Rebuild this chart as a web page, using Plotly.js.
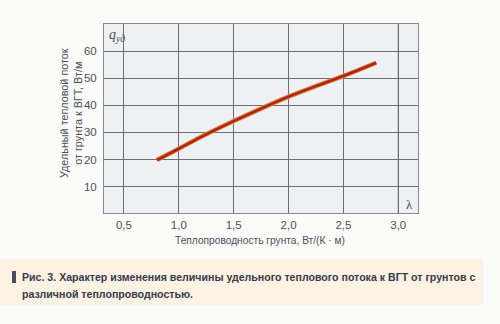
<!DOCTYPE html>
<html>
<head>
<meta charset="utf-8">
<script src="https://cdn.plot.ly/plotly-3.0.1.min.js"></script>
<style>
html,body{margin:0;padding:0;background:#fbfbfa;}
#chart{width:500px;height:324px;}
</style>
</head>
<body>
<div id="chart"></div>
<script>
const lambdaValues = [0.8, 1.0, 1.2, 1.5, 1.75, 2.0, 2.25, 2.5, 2.8];
const qValues = [19.8, 24.0, 28.3, 34.2, 38.8, 43.2, 47.1, 50.8, 55.7];
const xTickVals = [0.5, 1.0, 1.5, 2.0, 2.5, 3.0];
const xTickText = ["0,5", "1,0", "1,5", "2,0", "2,5", "3,0"];
const yTickVals = [10, 20, 30, 40, 50, 60];
const yTickText = ["10", "20", "30", "40", "50", "60"];
const yTitle = "Удельный тепловой поток<br>от грунта к ВГТ, Вт/м";
const xTitle = "Теплопроводность грунта, Вт/(К · м)";
const captionLine1 = "Рис. 3. Характер изменения величины удельного теплового потока к ВГТ от грунтов с";
const captionLine2 = "различной теплопроводностью.";

const FONT = "'Liberation Sans Narrow', 'Arial Narrow', 'Liberation Sans', sans-serif";

const traces = [
  {x: lambdaValues, y: qValues, type: 'scatter', mode: 'lines',
   line: {color: '#e0822f', width: 4.5, shape: 'spline', smoothing: 0.6}, hoverinfo: 'skip'},
  {x: lambdaValues, y: qValues, type: 'scatter', mode: 'lines',
   line: {color: '#a8261a', width: 2.6, shape: 'spline', smoothing: 0.6}, hoverinfo: 'skip'}
];

const layout = {
  width: 500, height: 324,
  margin: {l: 104, r: 82, t: 24, b: 111},
  paper_bgcolor: '#fbfbfa',
  plot_bgcolor: '#eef0f4',
  showlegend: false,
  separators: ', ',
  font: {family: FONT, color: '#4a4f58', size: 12},
  xaxis: {
    range: [0.318, 3.18], tickvals: xTickVals, ticktext: xTickText,
    showgrid: true, gridcolor: '#6e6e72', gridwidth: 1,
    zeroline: false, showline: true, linecolor: '#8a8a8e', linewidth: 1, mirror: true,
    ticks: '', ticklabelstandoff: 1,
    tickfont: {family: FONT, size: 11.5, color: '#4a4f58'}
  },
  yaxis: {
    range: [0.3, 70], tickvals: yTickVals, ticktext: yTickText,
    showgrid: true, gridcolor: '#6e6e72', gridwidth: 1,
    zeroline: false, showline: true, linecolor: '#8a8a8e', linewidth: 1, mirror: true,
    ticks: '', ticklabelstandoff: 4,
    tickfont: {family: FONT, size: 11.5, color: '#4a4f58'}
  },
  shapes: [
    {type: 'rect', xref: 'paper', yref: 'paper', layer: 'below',
     x0: -104/314, x1: (483-104)/314, y0: -(305-213)/189, y1: -(259-213)/189,
     fillcolor: '#fdf2e4', line: {width: 0}},
    {type: 'rect', xref: 'paper', yref: 'paper',
     x0: -(104-12)/314, x1: -(104-16)/314, y0: -(283-213)/189, y1: -(271-213)/189,
     fillcolor: '#4a4d55', line: {width: 0}},
    {type: 'line', xref: 'x', yref: 'paper', x0: 3.0, x1: 3.0, y0: 0, y1: 1,
     line: {color: '#6e6e72', width: 1}}
  ],
  annotations: [
    {text: yTitle, xref: 'paper', yref: 'paper', x: -(104-71)/314, y: (213-113)/189,
     xanchor: 'center', yanchor: 'middle', textangle: -90, showarrow: false,
     font: {family: FONT, size: 10.8, color: '#4a4f58'}, align: 'center'},
    {text: xTitle, xref: 'paper', yref: 'paper', x: (260-104)/314, y: -(240-213)/189,
     xanchor: 'center', yanchor: 'middle', showarrow: false,
     font: {family: FONT, size: 10.2, color: '#4a4f58'}},
    {text: '<i>q</i><sub><i>уд</i></sub>', xref: 'paper', yref: 'paper', x: (107-104)/314, y: (213-35)/189,
     xanchor: 'left', yanchor: 'middle', showarrow: false,
     font: {family: "'Liberation Serif', serif", size: 14, color: '#4a4f58'}},
    {text: 'λ', xref: 'paper', yref: 'paper', x: (409-104)/314, y: (213-204)/189,
     xanchor: 'center', yanchor: 'middle', showarrow: false,
     font: {family: "'Liberation Serif', serif", size: 13, color: '#4a4f58'}},
    {text: '<b>' + captionLine1 + '</b>', xref: 'paper', yref: 'paper', x: -(104-20)/314, y: -(277-213)/189,
     xanchor: 'left', yanchor: 'middle', showarrow: false,
     font: {family: FONT, size: 10.6, color: '#363b48'}},
    {text: '<b>' + captionLine2 + '</b>', xref: 'paper', yref: 'paper', x: -(104-20)/314, y: -(294-213)/189,
     xanchor: 'left', yanchor: 'middle', showarrow: false,
     font: {family: FONT, size: 10.6, color: '#363b48'}}
  ]
};

Plotly.newPlot('chart', traces, layout, {staticPlot: true, displayModeBar: false});
</script>
</body>
</html>
